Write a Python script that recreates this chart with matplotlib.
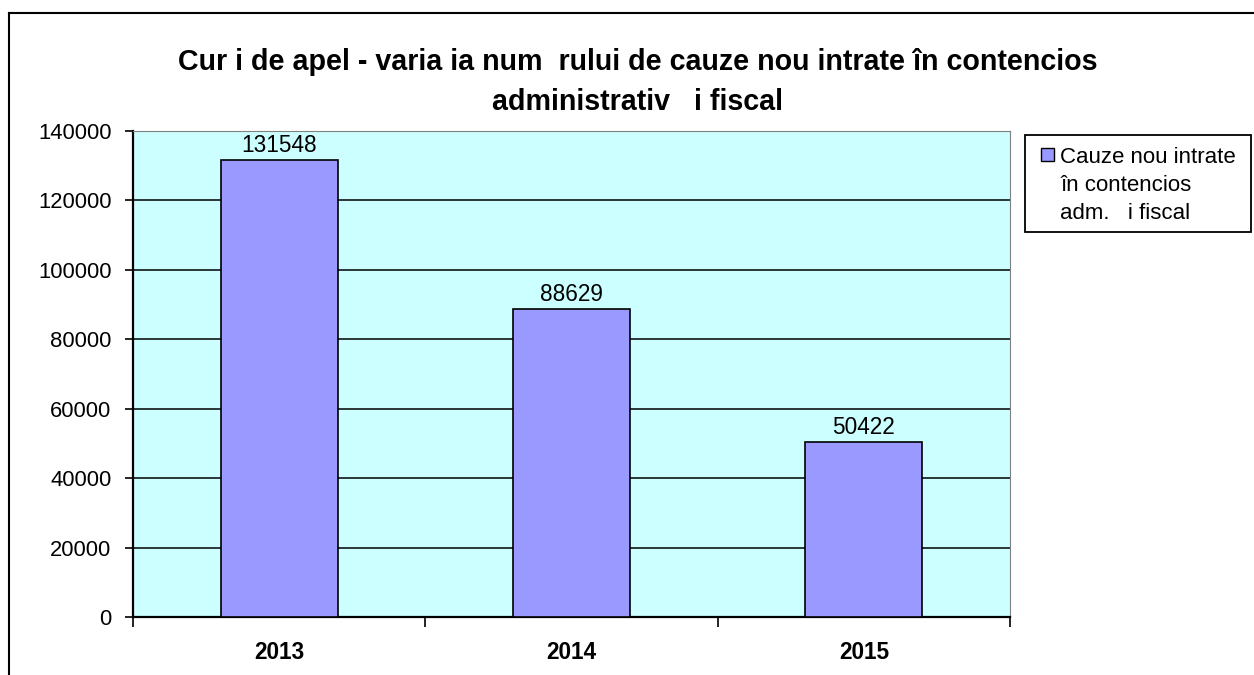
import matplotlib.pyplot as plt
from matplotlib.lines import Line2D
from matplotlib.patches import Rectangle

plt.rcParams['font.family'] = ['Liberation Sans', 'DejaVu Sans']

# dados
anos = ['2013', '2014', '2015']
cauze = [131548, 88629, 50422]
serie = 'Cauze nou intrate\nîn contencios\nadm.   i fiscal'
titlu = 'Cur i de apel - varia ia num  rului de cauze nou intrate în contencios\nadministrativ   i fiscal'

W, H = 1254, 675
fig = plt.figure(figsize=(W / 100, H / 100), dpi=100)
ax = fig.add_axes([133 / W, 1 - 617 / H, 877 / W, 486 / H])
ax.set_facecolor('#ccffff')

x = range(len(anos))
bars = ax.bar(x, cauze, width=0.4, color='#9999ff', edgecolor='black', linewidth=1.2,
              zorder=3)
for b, v in zip(bars, cauze):
    ax.text(b.get_x() + b.get_width() / 2, v + 900, str(v), ha='center', va='bottom',
            fontsize=16.3, zorder=4)

ax.set_xlim(-0.5, 2.5)
ax.set_ylim(0, 140000)
ax.set_yticks(range(0, 140001, 20000))
ax.tick_params(axis='y', labelsize=15.8, length=5.5, width=1.2, direction='out', pad=10)
ax.yaxis.grid(True, color='black', linewidth=1.1, zorder=1)
ax.set_axisbelow(True)

ax.set_xticks(list(x))
ax.set_xticklabels(anos, fontsize=16.3, fontweight='bold')
ax.tick_params(axis='x', which='major', length=0, pad=17)
ax.set_xticks([-0.5, 0.5, 1.5, 2.5], minor=True)
ax.tick_params(axis='x', which='minor', length=7, width=1.2, direction='out')

ax.spines['left'].set_linewidth(1.6)
ax.spines['bottom'].set_linewidth(1.6)
ax.spines['top'].set_color('#808080')
ax.spines['right'].set_color('#808080')

fig.text(638 / W, 1 - 82 / H, titlu, ha='center', va='center', fontsize=20.6,
         fontweight='bold', linespacing=1.5, zorder=10)

# legenda
fig.add_artist(Rectangle((1025 / W, 1 - 232 / H), 226 / W, 97 / H, facecolor='white',
                         edgecolor='black', linewidth=1.3, transform=fig.transFigure))
fig.add_artist(Rectangle((1041 / W, 1 - 161 / H), 13 / W, 13 / H, facecolor='#9999ff',
                         edgecolor='black', linewidth=1.0, transform=fig.transFigure))
fig.text(1060 / W, 1 - 147 / H, serie, ha='left', va='top', fontsize=16,
         linespacing=1.45)

# borda externa
fig.add_artist(Line2D([9 / W, 9 / W], [0, 1 - 13 / H], color='black', linewidth=1.5,
                      transform=fig.transFigure))
fig.add_artist(Line2D([9 / W, 1], [1 - 13 / H, 1 - 13 / H], color='black', linewidth=1.5,
                      transform=fig.transFigure))

fig.savefig('out.png', dpi=100)
